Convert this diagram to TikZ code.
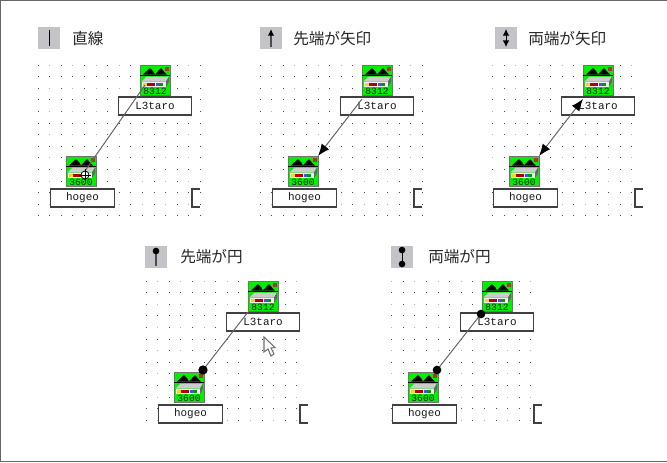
\documentclass[tikz,border=0pt]{standalone}
\usepackage{fontspec}
\setmainfont{Liberation Sans}
\newfontfamily\jpfont{Noto Sans CJK JP}
\newfontfamily\labelfont{Liberation Mono}
\usetikzlibrary{arrows.meta}
\definecolor{icongreen}{HTML}{00F000}
\definecolor{titlegray}{HTML}{C4C3C7}
\tikzset{
  every picture/.style={x=0.75pt,y=-0.75pt},
  titlebox/.style={fill=titlegray,minimum width=16.5pt,minimum height=16.5pt,inner sep=0pt,draw=none},
  titletext/.style={font=\jpfont\fontsize{11.7pt}{13pt}\selectfont,anchor=west,inner sep=0pt,text=black!85},
  namebox/.style={draw=black!75,line width=0.8pt,fill=white,inner sep=0pt,minimum height=13.5pt,font=\labelfont\fontsize{8.2pt}{9pt}\selectfont,text=black!90},
  iconbox/.style={draw=black!55,fill=icongreen,line width=0.6pt,minimum width=22.5pt,minimum height=22.5pt,inner sep=0pt},
  link/.style={draw=black!60,line width=0.75pt},
  tipa/.style={-{Latex[length=9pt,width=7pt,black]}},
  tipb/.style={{Latex[length=9pt,width=7pt,black]}-{Latex[length=9pt,width=7pt,black]}},
  ball/.style={circle,fill=black,inner sep=0pt,minimum size=6pt},
}
% device icon: #1 left, #2 top, #3 node name, #4 number
\newcommand{\deviceicon}[4]{%
  \node[iconbox] (#3) at (#1+15,#2+15) {};
  \begin{scope}[shift={(#1,#2)}]
    \fill[black] (3,9.5) -- (10,3) -- (13,6) -- (15,9.5) -- cycle;
    \fill[black] (15,9.5) -- (21,3) -- (24,6.5) -- (27,9.5) -- cycle;
    \fill[red!60!black!80] (25,1.5) rectangle (28.5,6);
    \draw[black,line width=0.5pt] (0,10.5) -- (30,10.5);
    \fill[black!20] (1.5,16.5) -- (6.5,11.5) -- (29,11.5) -- (26,16.5) -- cycle;
    \fill[black!6] (1.5,16.5) rectangle (26,22);
    \fill[black!60] (26,16.5) -- (29,11.5) -- (29,17) -- (26,22) -- cycle;
    \fill[yellow!90!black] (3,17.5) rectangle (7,20.5);
    \fill[red!70!black] (7,17.5) rectangle (15,20.5);
    \fill[blue!70] (16,17.5) rectangle (19,20.5);
    \fill[green!60!black] (19,17.5) rectangle (23,20.5);
    \node[inner sep=0pt,font=\labelfont\fontsize{7.2pt}{8pt}\selectfont,text=black!90] at (15,26.2) {#4};
  \end{scope}}
% panel: #1 dx, #2 dy, #3 prefix, #4 first col, #5 last col, #6 last row
\newcommand{\devicepanel}[6]{%
  \begin{scope}[shift={(#1,#2)}]
    \foreach \i in {#4,...,#5} \foreach \j in {0,...,#6} {
      \pgfmathtruncatemacro{\odd}{mod(\j,2)+mod(\i+1,2)}
      \ifnum\odd=0 \def\dotc{black!30}\else\def\dotc{black!70}\fi
      \fill[\dotc] ({38+\i*11.6-0.5},{65+\j*11.6-0.5}) rectangle ++(1,1);
    }
    \deviceicon{140}{65}{#3up}{8312}
    \node[namebox,minimum width=55pt] (#3upname) at (155,106) {L3taro};
    \deviceicon{66}{156}{#3low}{3600}
    \node[namebox,minimum width=48.5pt] (#3lowname) at (82.5,198) {hogeo};
    \draw[black!75,line width=0.8pt] (200,189) -- (192,189) -- (192,207) -- (200,207);
  \end{scope}}
\begin{document}
\begin{tikzpicture}
\useasboundingbox (0,0) rectangle (667,462);
\fill[white] (0,0) rectangle (667,462);
\draw[black!60,line width=0.75pt] (667,0.5) -- (0.5,0.5) -- (0.5,461.5) -- (667,461.5);
% panels
\devicepanel{0}{0}{a}{0}{14}{13}
\devicepanel{222}{0}{b}{0}{14}{13}
\devicepanel{443}{0}{c}{1}{13}{13}
\devicepanel{108}{216}{d}{0}{13}{12}
\devicepanel{342}{216}{e}{1}{13}{12}
% titles
\node[titlebox] (t1) at (49,38) {};
\draw[black,line width=0.75pt] (49,30) -- (49,46);
\node[titletext] (tt1) at (72,39) {直線};
\node[titlebox] (t2) at (271,38) {};
\draw[black!70,line width=1pt,-{Latex[length=5pt,width=5pt,black]}] (271,47) -- (271,29);
\node[titletext] (tt2) at (293,39) {先端が矢印};
\node[titlebox] (t3) at (506,38) {};
\draw[black,line width=0.75pt,{Latex[length=5pt,width=5pt]}-{Latex[length=5pt,width=5pt]}] (506,47) -- (506,29);
\node[titletext] (tt3) at (528,39) {両端が矢印};
\node[titlebox] (t4) at (156,257) {};
\draw[black!70,line width=1pt] (156,252) -- (156,266);
\node[ball,minimum size=5pt] (t4b) at (156,251) {};
\node[titletext] (tt4) at (180,257) {先端が円};
\node[titlebox] (t5) at (402,257) {};
\draw[black,line width=0.75pt] (402,250) -- (402,264);
\node[ball,minimum size=5pt] (t5a) at (402,250) {};
\node[ball,minimum size=5pt] (t5b) at (402,264) {};
\node[titletext] (tt5) at (428,257) {両端が円};
% connector ends
\coordinate (a1) at (145,85);
\coordinate (a2) at (85,171);
\coordinate (b1) at (362,99);
\coordinate (b2) at (318,156);
\coordinate (c1) at (583,99);
\coordinate (c2) at (539,156);
\coordinate (d1) at (248,312);
\coordinate (d2) at (203,370);
\coordinate (e1) at (481,314);
\coordinate (e2) at (437,370);
% connectors
\draw[link] (a1) -- (a2);
\draw[link,tipa] (b1) -- (b2);
\draw[link,tipb] (c2) -- (c1);
\draw[link] (d1) -- (d2);
\node[ball,minimum size=7pt] at (d2) {};
\draw[link] (e1) -- (e2);
\node[ball,minimum size=6.5pt] at (e1) {};
\node[ball,minimum size=6.5pt] at (e2) {};
% crosshair cursor
\draw[black,line width=0.6pt,fill=white] (85,175) circle (4);
\draw[black,line width=0.6pt] (79,175) -- (91,175) (85,169) -- (85,181);
% arrow cursor
\draw[black!55,line width=0.8pt,fill=white] (264,337) -- (264,352) -- (268,349) -- (271,356) -- (274,354) -- (271,348) -- (275,347.5) -- cycle;
\end{tikzpicture}
\end{document}
